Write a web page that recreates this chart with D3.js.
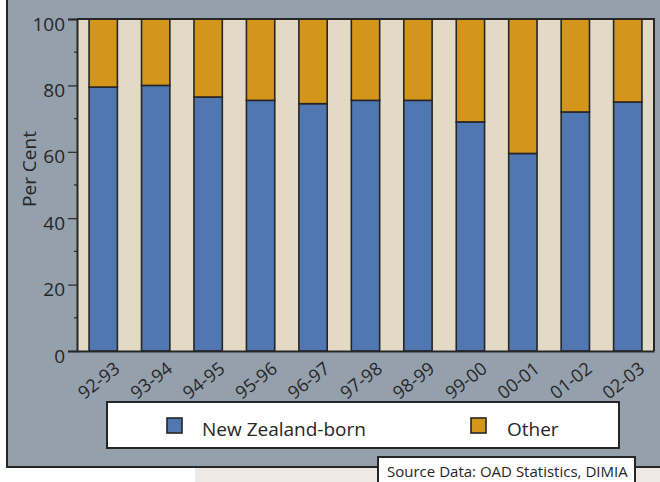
<!DOCTYPE html>
<html>
<head>
<meta charset="utf-8">
<script src="https://cdn.jsdelivr.net/npm/d3@7"></script>
<style>
  html, body { margin: 0; padding: 0; background: #ffffff; }
  svg { display: block; font-family: "Open Sans", "Noto Sans", sans-serif; }
</style>
</head>
<body>
<svg id="chart" width="660" height="482"></svg>
<script>
// Share of arrivals by birthplace, per financial year (per cent)
const years = ["92-93", "93-94", "94-95", "95-96", "96-97", "97-98", "98-99", "99-00", "00-01", "01-02", "02-03"];
const nzBorn = [79.5, 80, 76.5, 75.5, 74.5, 75.5, 75.5, 69, 59.5, 72, 75];
const other = nzBorn.map(v => 100 - v);
const seriesNames = ["New Zealand-born", "Other"];
const yTicks = [0, 20, 40, 60, 80, 100];
const yMinorTicks = [10, 30, 50, 70, 90];
const sourceText = "Source Data: OAD Statistics, DIMIA";

const colors = { nz: "#5077b2", other: "#d4961a", panel: "#95a0ad", plotBg: "#e2dac5", ink: "#262626" };

const svg = d3.select("#chart");

// page backdrop below the panel
svg.append("rect").attr("x", 195).attr("y", 467).attr("width", 470).attr("height", 20).attr("fill", "#efe9e6");

// grey-blue panel
svg.append("rect")
  .attr("x", 7).attr("y", -3).attr("width", 670).attr("height", 470)
  .attr("fill", colors.panel).attr("stroke", colors.ink).attr("stroke-width", 2);

const plot = { left: 77, right: 654, top: 19, bottom: 351 };

const x = d3.scaleBand().domain(years).range([plot.left, plot.right]).paddingInner(0.46).paddingOuter(0.23);
const y = d3.scaleLinear().domain([0, 100]).range([plot.bottom, plot.top]);

// plot background
svg.append("rect")
  .attr("x", plot.left).attr("y", plot.top)
  .attr("width", plot.right - plot.left).attr("height", plot.bottom - plot.top)
  .attr("fill", colors.plotBg);

// stacked bars
const rows = years.map((yr, i) => ({ yr, nz: nzBorn[i], other: other[i] }));
const g = svg.append("g");
g.selectAll("rect.nz").data(rows).join("rect")
  .attr("class", "nz")
  .attr("x", d => x(d.yr)).attr("width", x.bandwidth())
  .attr("y", d => y(d.nz)).attr("height", d => y(0) - y(d.nz))
  .attr("fill", colors.nz).attr("stroke", colors.ink).attr("stroke-width", 1.6);
g.selectAll("rect.other").data(rows).join("rect")
  .attr("class", "other")
  .attr("x", d => x(d.yr)).attr("width", x.bandwidth())
  .attr("y", d => y(d.nz + d.other)).attr("height", d => y(d.nz) - y(d.nz + d.other))
  .attr("fill", colors.other).attr("stroke", colors.ink).attr("stroke-width", 1.6);

// plot frame (top and right)
svg.append("path")
  .attr("d", `M${plot.left},${plot.top}H${plot.right}V${plot.bottom}`)
  .attr("fill", "none").attr("stroke", colors.ink).attr("stroke-width", 2);

// y axis
const yAxis = svg.append("g").attr("transform", `translate(${plot.left},0)`)
  .call(d3.axisLeft(y).tickValues(yTicks).tickSize(9).tickPadding(3).tickFormat(d3.format("d")));
yAxis.select(".domain").attr("stroke", colors.ink).attr("stroke-width", 2);
yAxis.selectAll(".tick line").attr("stroke", colors.ink).attr("stroke-width", 1.2);
yAxis.selectAll(".tick text")
  .attr("fill", colors.ink).attr("font-size", 19).attr("font-family", "Open Sans").attr("dy", "0.58em");
yAxis.selectAll("line.minor").data(yMinorTicks).join("line")
  .attr("class", "minor")
  .attr("x1", -3).attr("x2", 0).attr("y1", d => y(d)).attr("y2", d => y(d))
  .attr("stroke", colors.ink).attr("stroke-width", 1.2);

// x axis
const xAxis = svg.append("g").attr("transform", `translate(0,${plot.bottom})`)
  .call(d3.axisBottom(x).tickSize(0).tickPadding(0));
xAxis.select(".domain").attr("stroke", colors.ink).attr("stroke-width", 2);
xAxis.selectAll(".tick text")
  .attr("fill", colors.ink).attr("font-size", 18).attr("font-family", "Open Sans")
  .attr("text-anchor", "end").attr("dy", 0)
  .attr("transform", "translate(18,20) rotate(-38)");

// y axis title
svg.append("text")
  .attr("transform", "translate(36,169) rotate(-90)")
  .attr("text-anchor", "middle").attr("font-size", 19).attr("fill", colors.ink)
  .text("Per Cent");

// legend
const legend = svg.append("g");
legend.append("rect")
  .attr("x", 107).attr("y", 402).attr("width", 512).attr("height", 46)
  .attr("fill", "#ffffff").attr("stroke", colors.ink).attr("stroke-width", 2);
const legendItems = [
  { name: seriesNames[0], color: colors.nz, sx: 167, tx: 202 },
  { name: seriesNames[1], color: colors.other, sx: 471, tx: 507 }
];
legend.selectAll("rect.sw").data(legendItems).join("rect")
  .attr("class", "sw")
  .attr("x", d => d.sx).attr("y", 418).attr("width", 15).attr("height", 15)
  .attr("fill", d => d.color).attr("stroke", colors.ink).attr("stroke-width", 1.6);
legend.selectAll("text").data(legendItems).join("text")
  .attr("x", d => d.tx).attr("y", 436)
  .attr("font-size", 19).attr("fill", colors.ink)
  .text(d => d.name);

// source note, sized to sit inside its box
const srcBox = { x: 378, y: 457, w: 257 };
svg.append("rect")
  .attr("x", srcBox.x).attr("y", srcBox.y).attr("width", srcBox.w).attr("height", 35)
  .attr("fill", "#ffffff").attr("stroke", colors.ink).attr("stroke-width", 2);
const src = svg.append("text")
  .attr("x", srcBox.x + 9).attr("y", 477).attr("font-size", 16).attr("fill", colors.ink)
  .text(sourceText);
const wanted = srcBox.w - 16;
const measured = src.node().getComputedTextLength();
if (measured > 0) src.attr("font-size", Math.min(17, 16 * wanted / measured));
</script>
</body>
</html>
